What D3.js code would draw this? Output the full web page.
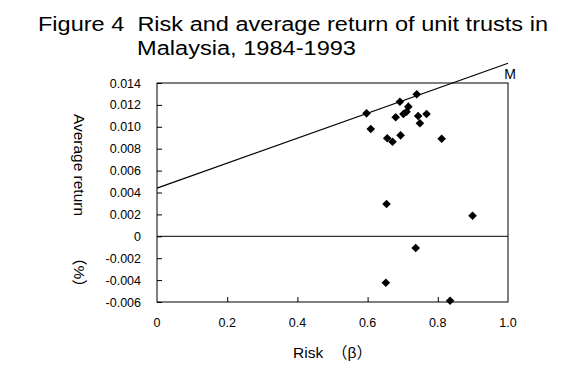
<!DOCTYPE html>
<html><head><meta charset="utf-8">
<script src="https://cdn.jsdelivr.net/npm/d3@7"></script>
<style>
body{margin:0;background:#fff;}
text{font-family:"Liberation Sans",Arial,"Noto Sans CJK JP",sans-serif;fill:#000;}
</style></head><body>
<svg id="c" width="582" height="389"></svg>
<script>
const titleLines = ["Figure 4\u00a0\u00a0Risk and average return of unit trusts in", "Malaysia, 1984-1993"];
const xTicks = [0, 0.2, 0.4, 0.6, 0.8, 1.0];
const xTickLabels = ["0", "0.2", "0.4", "0.6", "0.8", "1.0"];
const yTicks = [0.014, 0.012, 0.010, 0.008, 0.006, 0.004, 0.002, 0, -0.002, -0.004, -0.006];
const yTickLabels = ["0.014", "0.012", "0.010", "0.008", "0.006", "0.004", "0.002", "0", "-0.002", "-0.004", "-0.006"];
const riskBeta = [0.597, 0.692, 0.740, 0.609, 0.656, 0.671, 0.694, 0.680, 0.702, 0.716, 0.711, 0.744, 0.749, 0.768, 0.811, 0.654, 0.899, 0.737, 0.652, 0.835];
const avgReturn = [0.01123, 0.01229, 0.01297, 0.0098, 0.00895, 0.00864, 0.00922, 0.01087, 0.01117, 0.01184, 0.01138, 0.01099, 0.01032, 0.01117, 0.00891, 0.00295, 0.00188, -0.00107, -0.00424, -0.00588];
const lineBeta = [0, 1.0];
const lineReturn = [0.0044, 0.0158];
const lineLabel = "M";

const svg = d3.select("#c");
const L = 157, R = 508, T = 83, B = 302;
const x = d3.scaleLinear().domain([0, 1.0]).range([L, R]);
const y = d3.scaleLinear().domain([-0.006, 0.014]).range([B, T]);

// title
svg.append("text").attr("x", 38).attr("y", 31).attr("font-size", 19.5)
  .attr("textLength", 510).attr("lengthAdjust", "spacingAndGlyphs").text(titleLines[0]);
svg.append("text").attr("x", 137).attr("y", 55).attr("font-size", 19.5)
  .attr("textLength", 219).attr("lengthAdjust", "spacingAndGlyphs").text(titleLines[1]);

// frame
svg.append("rect").attr("x", L).attr("y", T).attr("width", R - L).attr("height", B - T)
  .attr("fill", "none").attr("stroke", "#000").attr("stroke-width", 1);

// y axis ticks (inward)
const yAxis = d3.axisRight(y).tickValues(yTicks).tickSize(5).tickFormat(() => "");
const gy = svg.append("g").attr("transform", `translate(${L},0)`).call(yAxis);
gy.select(".domain").remove();
gy.selectAll("line").attr("stroke", "#000");
svg.append("g").selectAll("text").data(yTicks).join("text")
  .attr("x", L - 16).attr("y", d => y(d)).attr("dy", "0.36em")
  .attr("text-anchor", "end").attr("font-size", 12.5)
  .text((d, i) => yTickLabels[i]);

// x axis ticks (inward)
const xAxis = d3.axisTop(x).tickValues(xTicks.slice(1, -1)).tickSize(5).tickFormat(() => "");
const gx = svg.append("g").attr("transform", `translate(0,${B})`).call(xAxis);
gx.select(".domain").remove();
gx.selectAll("line").attr("stroke", "#000");
svg.append("g").selectAll("text").data(xTicks).join("text")
  .attr("x", d => x(d)).attr("y", B + 25)
  .attr("text-anchor", "middle").attr("font-size", 12.5)
  .text((d, i) => xTickLabels[i]);

// zero line
svg.append("line").attr("x1", x(0)).attr("x2", x(1.0)).attr("y1", y(0)).attr("y2", y(0))
  .attr("stroke", "#000").attr("stroke-width", 1);

// market line
svg.append("line").attr("x1", x(lineBeta[0])).attr("y1", y(lineReturn[0]))
  .attr("x2", x(lineBeta[1])).attr("y2", y(lineReturn[1]))
  .attr("stroke", "#000").attr("stroke-width", 1.2);
svg.append("text").attr("x", x(lineBeta[1]) + 2).attr("y", y(lineReturn[1]) + 16)
  .attr("font-size", 14).attr("text-anchor", "middle").text(lineLabel);

// points
svg.append("g").selectAll("path").data(riskBeta).join("path")
  .attr("d", (d, i) => {
    const cx = x(d), cy = y(avgReturn[i]), r = 4.3;
    return `M${cx},${cy - r}L${cx + r},${cy}L${cx},${cy + r}L${cx - r},${cy}Z`;
  })
  .attr("fill", "#000");

// axis titles
svg.append("text").attr("x", 293).attr("y", 358).attr("font-size", 15.5).text("Risk");
svg.append("text").attr("x", 332).attr("y", 358).attr("font-size", 15.5).text("（β）");
svg.append("text").attr("transform", "translate(74,114) rotate(90)")
  .attr("font-size", 15.5).attr("textLength", 102).attr("lengthAdjust", "spacingAndGlyphs").text("Average return");
svg.append("text").attr("transform", "translate(74,250) rotate(90)")
  .attr("font-size", 15.5).text("（%）");
</script></body></html>
